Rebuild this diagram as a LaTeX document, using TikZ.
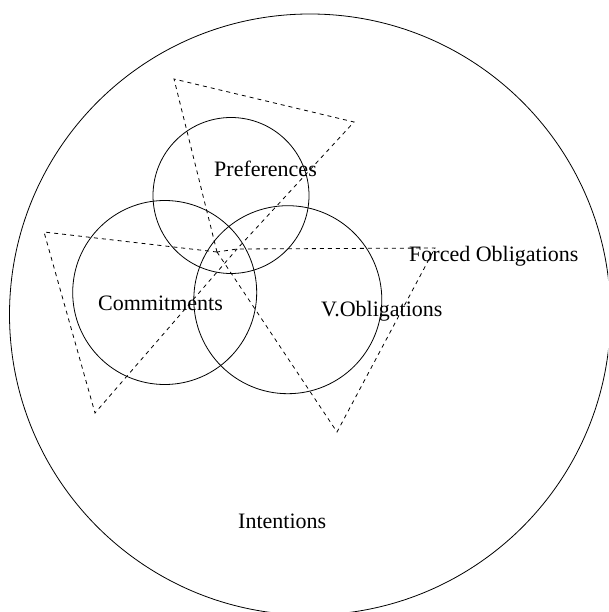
\documentclass[tikz,border=0pt]{standalone}
\usepackage{fontspec}
\setmainfont{Liberation Serif}

\begin{document}
\begin{tikzpicture}[x=1pt,y=-1pt,
                    set node/.style={circle,draw,inner sep=0pt,line width=0.8pt},
                    name node/.style={anchor=base west,inner sep=0pt,font=\fontsize{22}{26}\selectfont},
                    fob/.style={draw,line width=0.8pt,dash pattern=on 4pt off 4pt}]
  \useasboundingbox (0,0) rectangle (608,612);
  \clip (0,0) rectangle (608,612);
  %sets%
  \node[set node,minimum size=601pt] (int) at (310,314.5) {};
  \node[set node,minimum size=156pt] (pref) at (231,195.5) {};
  \node[set node,minimum size=184pt] (com) at (164.7,292.5) {};
  \node[set node,minimum size=188pt] (vob) at (287.8,299.7) {};

  \node[name node] (lpref) at (214,176.5) {Preferences};
  \node[name node] (lcom) at (98,310) {Commitments};
  \node[name node] (lvob) at (321,316.5) {V.Obligations};
  \node[name node] (lfob) at (409,261.5) {Forced Obligations};
  \node[name node] (lint) at (238,528) {Intentions};

  %forced obligations%
  \coordinate (v) at (217,252);
  \coordinate (w) at (237,249);
  \coordinate (a1) at (174,79);
  \coordinate (a2) at (354,122);
  \coordinate (b1) at (44,232);
  \coordinate (b2) at (95,413);
  \coordinate (d1) at (435,248);
  \coordinate (d2) at (337,432);
  \path[fob] (v) -- (a1) -- (a2) -- (w);
  \path[fob] (v) -- (b1) -- (b2) -- (w);
  \path[fob] (v) -- (d2) -- (d1) -- (w) -- cycle;
\end{tikzpicture}
\end{document}
